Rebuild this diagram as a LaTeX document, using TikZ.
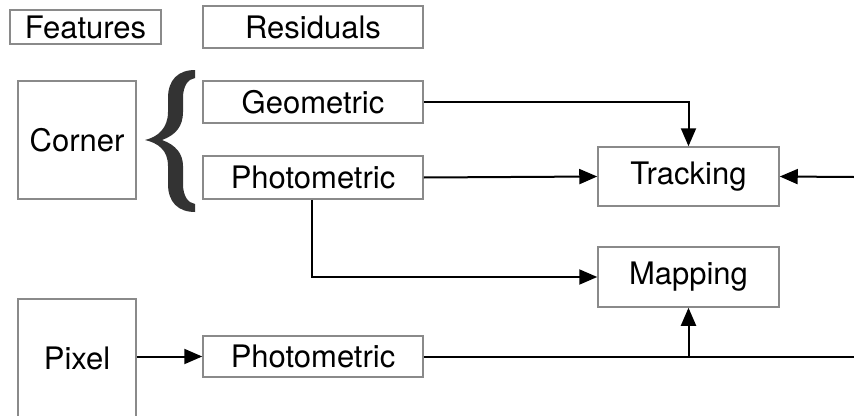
\documentclass[tikz,border=0pt]{standalone}
\usepackage{fontspec}
\setmainfont{TeX Gyre Heros}
\usetikzlibrary{arrows.meta}
\definecolor{boxgray}{HTML}{8A8A8A}
\definecolor{bracegray}{HTML}{333333}
\tikzset{
  box/.style={draw=boxgray, line width=1.5pt, inner sep=0pt, text=black,
    font=\fontsize{31}{36}\selectfont},
  conn/.style={draw=black, line width=2pt},
  arr/.style={conn, -{Triangle[length=18pt,width=15pt]}},
}
\begin{document}
\begin{tikzpicture}[x=1pt,y=-1pt]
\useasboundingbox (0,0) rectangle (854,415);
\clip (0,0) rectangle (854,415);
\fill[white] (0,0) rectangle (854,415);
% header
\node[box, minimum width=151pt, minimum height=34pt] (feat) at (85.5,27) {Features};
\node[box, minimum width=220pt, minimum height=42pt] (res) at (313,27) {Residuals};
% corner
\node[box, minimum width=118pt, minimum height=118pt] (corner) at (77,140) {Corner};
\node[box, minimum width=220pt, minimum height=42pt] (geo) at (313,102) {Geometric};
\node[box, minimum width=220pt, minimum height=43pt] (pho1) at (313,177.5) {Photometric};
% pixel
\node[box, minimum width=118pt, minimum height=118pt] (pixel) at (77,358) {Pixel};
\node[box, minimum width=220pt, minimum height=41pt] (pho2) at (313,356.5) {Photometric};
% outputs
\node[box, minimum width=181pt, minimum height=59pt] (trk) at (688.5,176.5) {Tracking};
\node[box, minimum width=181pt, minimum height=60pt] (map) at (688.5,277) {Mapping};
% brace
\fill[bracegray] (195,70)
  .. controls (178,70) and (168,80) .. (168,98)
  -- (168,112)
  .. controls (168,128) and (158,137) .. (145,140)
  .. controls (158,143) and (168,150) .. (168,166)
  -- (168,184)
  .. controls (168,202) and (178,212) .. (195,212)
  -- (195,204)
  .. controls (188,203) and (183,196) .. (183,184)
  -- (183,166)
  .. controls (183,154) and (176,145) .. (162,140)
  .. controls (176,135) and (183,126) .. (183,112)
  -- (183,98)
  .. controls (183,86) and (188,79) .. (195,78)
  -- cycle;
% coordinates at the right edge
\coordinate (rin) at (854,177);
\coordinate (rout) at (854,355);
\coordinate (split) at (map.south |- pho2.east);
% connectors
\draw[arr] (geo.east) -| (trk.north);
\draw[arr] (pho1.east) -- (trk.west);
\draw[arr] (rin) -- (trk.east);
\draw[arr] ([xshift=-1pt]pho1.south) |- (map.west);
\draw[arr] (pixel.east |- pho2.west) -- (pho2.west);
\draw[conn] (pho2.east) -- (rout |- pho2.east);
\draw[arr] (split) -- (map.south);
\end{tikzpicture}
\end{document}
